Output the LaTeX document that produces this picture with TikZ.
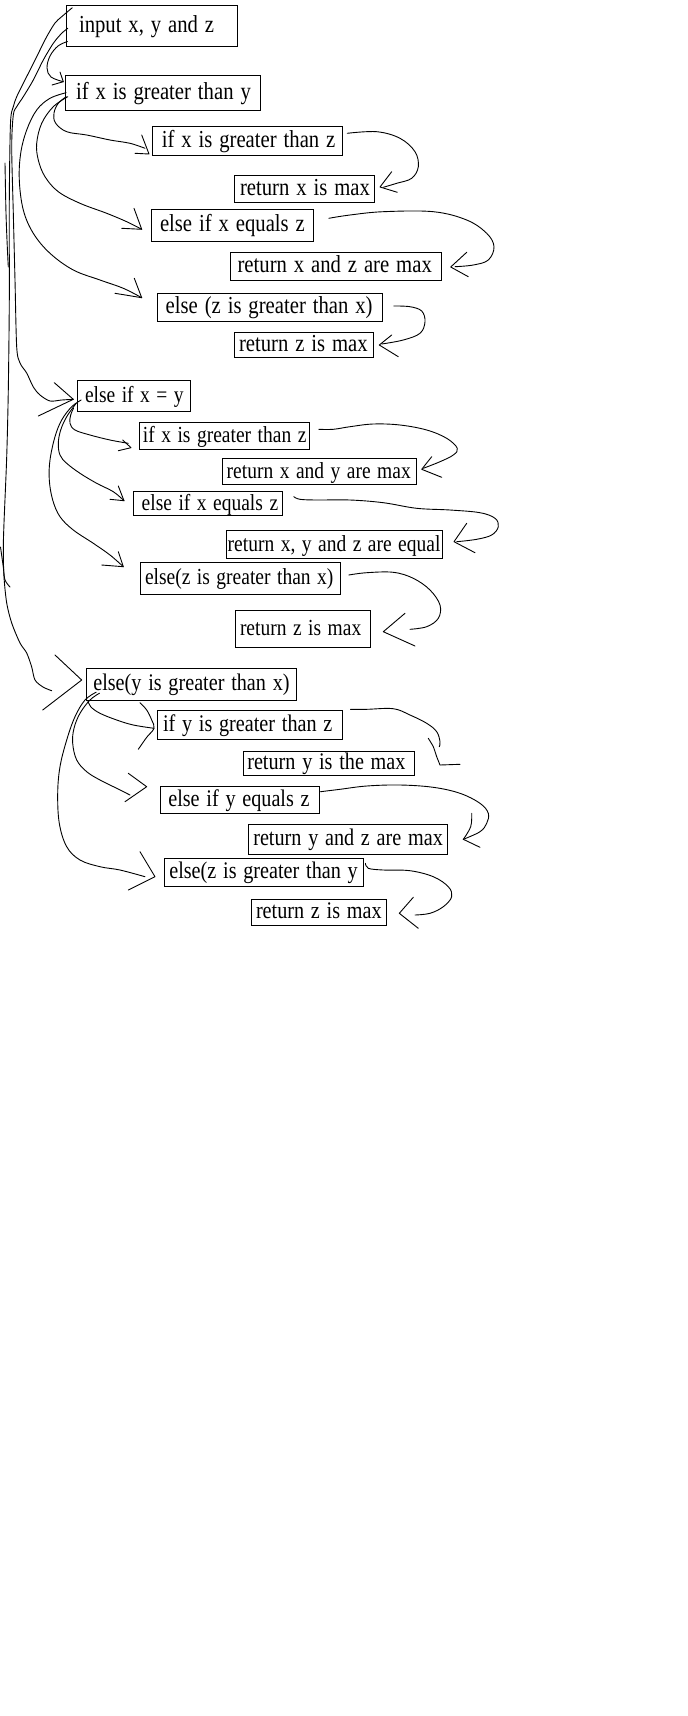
\documentclass[tikz,border=0pt]{standalone}
\usepackage{graphicx}
\usepackage{fontspec}
\setmainfont{Liberation Serif}
\newcommand\stretchtxt[1]{\scalebox{1}[1.18]{#1}}
\begin{document}
\begin{tikzpicture}[x=1pt,y=-1pt,
  box/.style={draw, line width=1pt, inner ysep=0pt, text height=15pt, text depth=2pt, align=left},
  fa/.style={font=\fontsize{20.7pt}{25pt}\selectfont},
  fb/.style={font=\fontsize{19.5pt}{23pt}\selectfont},
  fc/.style={font=\fontsize{20.2pt}{24pt}\selectfont},
  hand/.style={line width=0.9pt, line cap=round, line join=round}]
\fill[white] (0,0) rectangle (688,1716);
\useasboundingbox (0,0) rectangle (688,1716);

% ---- boxes: top section
\node[box,fa,minimum height=40.3pt,inner xsep=12.3pt,text width=146pt] (b1) at (152,25.85) {\stretchtxt{input x, y and z}};
\node[box,fa,minimum height=35pt,inner xsep=10.8pt,text width=173.1pt] (b2) at (162.65,92.5) {\stretchtxt{if x is greater than y}};
\node[box,fa,minimum height=28.6pt,inner xsep=9.5pt,text width=171pt] (b3) at (247.3,141) {\stretchtxt{if x is greater than z}};
\node[box,fa,minimum height=26.3pt,inner xsep=5.7pt,text width=128.6pt] (b4) at (304.3,188.85) {\stretchtxt{return x is max}};
\node[box,fa,minimum height=31.7pt,inner xsep=8.7pt,text width=144.6pt] (b5) at (232.3,225.15) {\stretchtxt{else if x equals z}};
\node[box,fa,minimum height=27.3pt,inner xsep=7.3pt,text width=196.4pt] (b6) at (335.8,266.35) {\stretchtxt{return x and z are max}};
\node[box,fa,minimum height=28pt,inner xsep=8.4pt,text width=208.2pt] (b7) at (269.8,307.3) {\stretchtxt{else (z is greater than x)}};
\node[box,fa,minimum height=25pt,inner xsep=4.7pt,text width=129.6pt] (b8) at (303.8,344.5) {\stretchtxt{return z is max}};
% ---- middle section
\node[box,fb,minimum height=30.6pt,inner xsep=7.3pt,text width=98.4pt] (b9) at (134.2,396) {\stretchtxt{else if x = y}};
\node[box,fb,minimum height=26.6pt,inner xsep=3.6pt,text width=162.8pt] (b10) at (224.3,436) {\stretchtxt{if x is greater than z}};
\node[box,fb,minimum height=25.6pt,inner xsep=4.4pt,text width=185.6pt] (b11) at (319.5,471.5) {\stretchtxt{return x and y are max}};
\node[box,fb,minimum height=23.6pt,inner xsep=8pt,text width=132.3pt] (b12) at (207.85,503.5) {\stretchtxt{else if x equals z}};
\node[box,fb,minimum height=27.6pt,inner xsep=1.4pt,text width=213.6pt] (b13) at (334.5,544.5) {\stretchtxt{return x, y and z are equal}};
\node[box,fb,minimum height=32pt,inner xsep=4.7pt,text width=190.3pt] (b14) at (240.15,578.3) {\stretchtxt{else(z is greater than x)}};
\node[box,fb,minimum height=37pt,inner xsep=4.3pt,text width=125.7pt] (b15) at (302.85,628.8) {\stretchtxt{return z is max}};
% ---- bottom section
\node[box,fc,minimum height=32pt,inner xsep=7pt,text width=196pt] (b16) at (191.3,684.3) {\stretchtxt{else(y is greater than x)}};
\node[box,fc,minimum height=28.6pt,inner xsep=6pt,text width=173pt] (b17) at (249.5,725) {\stretchtxt{if y is greater than z}};
\node[box,fc,minimum height=24pt,inner xsep=4pt,text width=163.4pt] (b18) at (329,763.3) {\stretchtxt{return y is the max}};
\node[box,fc,minimum height=27pt,inner xsep=8.3pt,text width=142.7pt] (b19) at (239.65,799.8) {\stretchtxt{else if y equals z}};
\node[box,fc,minimum height=29.7pt,inner xsep=5.3pt,text width=188.7pt] (b20) at (347.65,839.15) {\stretchtxt{return y and z are max}};
\node[box,fc,minimum height=28pt,inner xsep=5.3pt,text width=188.7pt] (b21) at (263.65,872.3) {\stretchtxt{else(z is greater than y}};
\node[box,fc,minimum height=26pt,inner xsep=5pt,text width=125.3pt] (b22) at (318.65,912.3) {\stretchtxt{return z is max}};

% ---- arrow tips
\coordinate (t2) at (63.3,81.7);
\coordinate (t3) at (149,154);
\coordinate (t4) at (380,187);
\coordinate (t5) at (141.7,229.3);
\coordinate (t6) at (450.7,267);
\coordinate (t7) at (141.7,297.7);
\coordinate (t8) at (379.3,345);
\coordinate (t9) at (73.3,399.3);
\coordinate (t10) at (131,447.7);
\coordinate (t11) at (421.7,469.3);
\coordinate (t12) at (124,500.7);
\coordinate (t13) at (454,541.7);
\coordinate (t14) at (123.3,566.7);
\coordinate (t15) at (383.3,631.7);
\coordinate (t16) at (81.7,680);
\coordinate (t17) at (154,728.3);
\coordinate (t18) at (440,765);
\coordinate (t19) at (146.7,786.7);
\coordinate (t20) at (463.3,839.3);
\coordinate (t21) at (155,876.7);
\coordinate (t22) at (399.3,913.3);

% ---- input -> if x > y
\draw[hand] plot[smooth,tension=0.6] coordinates {([shift={(1.3,-5)}]b1.south west) (58,46) (50,56) (47,68) (51,77) (t2)};
\draw[hand] (60,72) -- (t2) -- (52,85);

% ---- input -> else if x = y (long left line)
\draw[hand] plot[smooth,tension=0.5] coordinates {([shift={(1.6,2.45)}]b1.west) (61.7,33.3) (53.3,43.3) (43.3,60) (33.3,80) (23.3,96.7) (16.7,106.7) (13.3,115) (11.7,147) (13.3,213) (15,280) (16.7,347) (20,363) (26.7,373) (33.3,387) (40,395) (50,401) (61.7,400) (t9)};
\draw[hand] (54.3,382.7) -- (t9) -- (38.3,416);

% ---- input -> else(y > x) (outer left line)
\draw[hand] plot[smooth,tension=0.5] coordinates {([shift={(6,2.6)}]b1.north west) (61.7,16.7) (55,23) (46.7,36.7) (40,50) (31.7,66.7) (23.3,83.3) (16.7,96.7) (13.3,106.7) (10.5,123) (9.3,200) (9.3,300) (8.3,390) (6.7,457) (4,523) (3.3,550) (4,577) (6.7,603) (11.7,623) (20,643) (26.7,653) (31.7,667) (35,680) (43,687) (51.7,690.7)};
\draw[hand] (55,655) -- (t16) -- (42.7,710);
\draw[hand] plot[smooth] coordinates {(5,163) (6,213) (7.3,247) (8.3,267)};
\draw[hand] plot[smooth] coordinates {(0.5,547) (3.3,567) (5,580) (10,587)};

% ---- if x > y -> branches
\draw[hand] plot[smooth,tension=0.6] coordinates {([shift={(1.4,4.2)}]b2.west) (58.3,103.3) (54,113) (55.5,123) (66.7,131.7) (86.7,135) (110,140) (130,143.3) (145,148.3)};
\draw[hand] (141.7,135) -- (t3) -- (135,153.3);
\draw[hand] plot[smooth,tension=0.6] coordinates {([shift={(3,4.2)}]b2.west) (53.3,106.7) (41.7,123.3) (36.7,143.3) (38.3,160) (45,176.7) (58.3,191.7) (80,203.3) (106.7,213.3) (126.7,221.7) (t5)};
\draw[hand] (134,208.3) -- (t5) -- (121.7,228.3);
\draw[hand] plot[smooth,tension=0.6] coordinates {([shift={(1.4,0.2)}]b2.west) (50,98.3) (36.7,110) (26.7,130) (20.7,153.3) (19.3,180) (23.3,210) (33.3,233.3) (50,253.3) (73.3,270) (100,280) (123.3,288.3) (t7)};
\draw[hand] (134.3,278.3) -- (t7) -- (115,293.3);

\draw[hand] plot[smooth,tension=0.6] coordinates {([shift={(4.4,-7.7)}]b3.east) (376.7,131.7) (400,138.3) (415,151.7) (418.3,166.7) (411.7,178.3) (396.7,183.3) (383.3,187.3)};
\draw[hand] (391.7,171.7) -- (t4) -- (397.3,192.3);
\draw[hand] plot[smooth,tension=0.6] coordinates {([shift={(15,-6.85)}]b5.east) (350,215) (383.3,211.7) (433.3,211.7) (466.7,220) (486.7,233.3) (494,246.7) (488.3,260) (473.3,265) (455,266.7)};
\draw[hand] (466.7,252.3) -- (t6) -- (468.3,276.7);
\draw[hand] plot[smooth,tension=0.6] coordinates {([shift={(11,-1.3)}]b7.east) (410,306.7) (421.7,311) (425,321.7) (420,333.3) (403.3,340) (381.7,344)};
\draw[hand] (391.7,335) -- (t8) -- (398.3,356.7);

% ---- else if x = y -> branches
\draw[hand] plot[smooth,tension=0.6] coordinates {([shift={(-3.7,12.3)}]b9.west) (70.7,415) (70,423.3) (75,430) (90,435) (110,440) (128.3,443.3)};
\draw[hand] (122.7,440) -- (t10) -- (118.3,450.7);
\draw[hand] plot[smooth,tension=0.6] coordinates {([shift={(-1,7.3)}]b9.west) (66.7,416.7) (60.7,430) (58.3,443.3) (60,455) (66.7,463.3) (80,473.3) (96.7,483.3) (113.3,491.7) (t12)};
\draw[hand] (118.3,486) -- (t12) -- (110,499.3);
\draw[hand] plot[smooth,tension=0.6] coordinates {([shift={(4,4)}]b9.west) (71.7,406.7) (61.7,420) (55,436.7) (50,460) (49.3,480) (52.7,500) (60,516.7) (73.3,530) (93.3,543.3) (110,555) (t14)};
\draw[hand] (118.3,551.7) -- (t14) -- (101.7,565);

\draw[hand] plot[smooth,tension=0.6] coordinates {([shift={(9,-6.7)}]b10.east) (333.3,429.3) (350,426.7) (373.3,424) (400,425) (426.7,430) (446.7,438.3) (457.3,448.3) (453.3,455) (440,461.7) (423.3,468.3)};
\draw[hand] (431.7,456.7) -- (t11) -- (441.7,477.3);
\draw[hand] plot[smooth,tension=0.6] coordinates {([shift={(11.3,-6.8)}]b12.east) (300,499.3) (316.7,500) (350,500) (383.3,502.7) (416.7,508.3) (450,510) (480,512.7) (495,518.3) (498.3,526.7) (491.7,535) (476.7,539.3) (456.7,541.7)};
\draw[hand] (466.7,523.3) -- (t13) -- (475,552.7);
\draw[hand] plot[smooth,tension=0.6] coordinates {([shift={(8.3,-3.3)}]b14.east) (366.7,572.7) (393.3,572.3) (413.3,578.3) (430,590) (440,605) (438.3,618.3) (426.7,626.7) (410,629.3)};
\draw[hand] (405,613.3) -- (t15) -- (415,646);

% ---- else(y > x) -> branches
\draw[hand] plot[smooth,tension=0.6] coordinates {([shift={(2,-0.3)}]b16.south west) (90.7,706.7) (100,713.3) (116.7,720) (133.3,725) (t17)};
\draw[hand] plot[smooth,tension=0.6] coordinates {(140,702.7) (146.7,710) (151.7,720) (t17) (146.7,737.3) (138.3,749.3)};
\draw[hand] plot[smooth,tension=0.6] coordinates {([shift={(13.7,-7.6)}]b16.south west) (90,700) (80,713.3) (74,728.3) (72.7,743.3) (76.7,760) (86.7,771.7) (100,780) (116.7,788.3) (130,795)};
\draw[hand] (128.3,773.3) -- (t19) -- (125,801.7);
\draw[hand] plot[smooth,tension=0.6] coordinates {([shift={(10.4,-8.6)}]b16.south west) (85,700) (75,716.7) (66.7,740) (60,766.7) (57.7,793.3) (59.3,823.3) (66.7,846.7) (80,860) (100,866.7) (120,870) (145,876.7)};
\draw[hand] (140,851.7) -- (t21) -- (128.3,890);

\draw[hand] plot[smooth,tension=0.6] coordinates {([shift={(8,-15.7)}]b17.east) (366.7,709.3) (393.3,708.7) (410,715) (426.7,723.3) (436.7,731.7) (440,741.7) (439.3,746.7)};
\draw[hand] plot[smooth,tension=0.4] coordinates {(428.3,738.3) (433.3,746.7) (436.7,756.7) (t18)};
\draw[hand] (t18) -- (460,764.3);
\draw[hand] plot[smooth,tension=0.6] coordinates {([shift={(0.7,-8.1)}]b19.east) (340,789.3) (366.7,786) (400,785) (433.3,787.3) (460,793.3) (480,803.3) (488.3,813.3) (486.7,823.3) (480,831.7) (t20)};
\draw[hand] plot[smooth,tension=0.6] coordinates {(471.7,813.3) (470.7,826.7) (t20)};
\draw[hand] (t20) -- (480,847.3);
\draw[hand] plot[smooth,tension=0.6] coordinates {([shift={(1.7,-9)}]b21.east) (368.3,868.3) (383.3,870) (410,870.7) (433.3,876.7) (448.3,886.7) (451.7,896.7) (443.3,906.7) (430,913.3) (415,915)};
\draw[hand] (413.3,897.3) -- (t22) -- (418.3,928.3);
\end{tikzpicture}
\end{document}
